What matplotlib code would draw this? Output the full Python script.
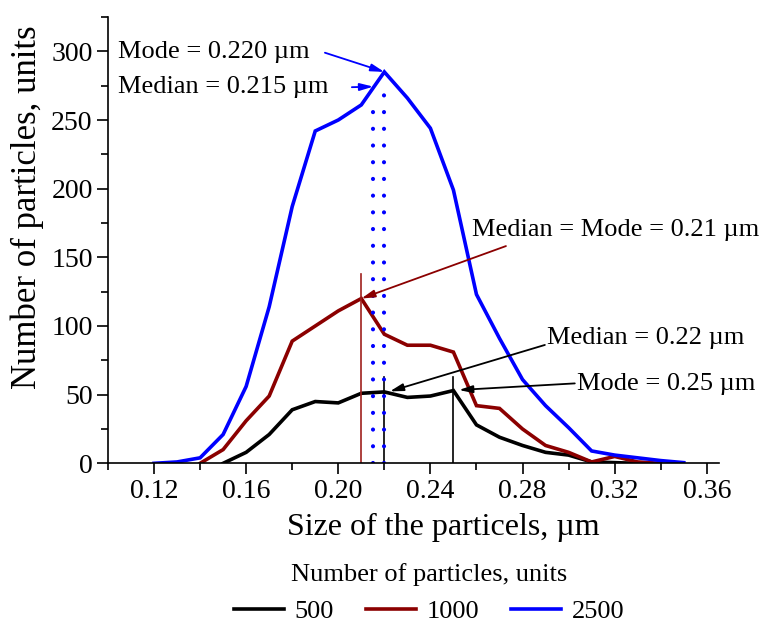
import numpy as np
import matplotlib
matplotlib.use('Agg')
import matplotlib.pyplot as plt
from matplotlib.ticker import MultipleLocator, FixedLocator

plt.rcParams['font.family'] = ['Liberation Serif', 'DejaVu Serif']

# Particle sizes, um
sizes = [0.12, 0.13, 0.14, 0.15, 0.16, 0.17, 0.18, 0.19, 0.20, 0.21, 0.22, 0.23,
         0.24, 0.25, 0.26, 0.27, 0.28, 0.29, 0.30, 0.31, 0.32, 0.33, 0.34, 0.35]

nan = np.nan
# Number of particles for each sample (500, 1000, 2500 units)
n500 = [nan, nan, nan, 0, 8, 21, 39, 45, 44, 51, 52, 48,
        49, 53, 28, 19, 13, 8, 6, 1, 0.5, 0, nan, nan]
n1000 = [nan, nan, 0, 10, 31, 49, 89, 100, 111, 120, 94, 86,
         86, 81, 42, 40, 25, 13, 8, 1, 5, 1, 0, nan]
n2500 = [0, 1, 4, 21, 56, 114, 187, 242, 250, 261, 285, 266,
         244, 199, 123, 91, 61, 42, 26, 9, 6, 4, 2, 0.5]

series_labels = ['500', '1000', '2500']
series_colors = ['black', '#8b0000', 'blue']

fig = plt.figure(figsize=(7.63, 6.23), dpi=100)
ax = fig.add_axes([0.1415, 0.2563, 0.8008, 0.7164])

for vals, lab, col in zip([n500, n1000, n2500], series_labels, series_colors):
    ax.plot(sizes, vals, color=col, lw=2.6, label=lab, solid_joinstyle='miter')

# Median / mode markers
ax.plot([0.21, 0.21], [0, 138], color='#a0201c', lw=1.2)
ax.plot([0.22, 0.22], [0, 63], color='black', lw=1.2)
ax.plot([0.25, 0.25], [0, 63], color='black', lw=1.2)
ax.plot([0.215, 0.215], [0, 262], color='blue', lw=3, linestyle=(0, (0.01, 4.0)),
        dash_capstyle='round')
ax.plot([0.22, 0.22], [0, 272], color='blue', lw=3, linestyle=(0, (0.01, 4.0)),
        dash_capstyle='round')

fs_ann = 19
ax.text(0.1042, 299.8, 'Mode = 0.220 µm', fontsize=fs_ann, va='center', ha='left')
ax.text(0.1042, 274.3, 'Median = 0.215 µm', fontsize=fs_ann, va='center', ha='left')
ax.text(0.2580, 170, 'Median = Mode = 0.21 µm', fontsize=fs_ann, va='center', ha='left')
ax.text(0.2905, 90.9, 'Median = 0.22 µm', fontsize=fs_ann, va='center', ha='left')
ax.text(0.3035, 57.8, 'Mode = 0.25 µm', fontsize=fs_ann, va='center', ha='left')

arrows = [
    ((0.1942, 299), (0.2200, 285), 'blue'),
    ((0.2059, 273.9), (0.2152, 274.3), 'blue'),
    ((0.2728, 158.2), (0.2100, 120), '#8b0000'),
    ((0.2897, 86.2), (0.2224, 52.4), 'black'),
    ((0.3027, 58.2), (0.2524, 53.4), 'black'),
]
for start, end, col in arrows:
    ax.annotate('', xy=end, xytext=start,
                arrowprops=dict(arrowstyle='-|>,head_length=0.8,head_width=0.22',
                                color=col, lw=1.3, shrinkA=0, shrinkB=0))

# Axes formatting
ax.set_xlim(0.10, 0.3653)
ax.set_ylim(0, 325)
ax.spines['top'].set_visible(False)
ax.spines['right'].set_visible(False)
ax.spines['left'].set_linewidth(1.2)
ax.spines['bottom'].set_linewidth(1.2)

ax.xaxis.set_major_locator(FixedLocator([0.12, 0.16, 0.20, 0.24, 0.28, 0.32, 0.36]))
ax.xaxis.set_minor_locator(FixedLocator([0.10, 0.14, 0.18, 0.22, 0.26, 0.30, 0.34]))
ax.set_xticklabels(['0.12', '0.16', '0.20', '0.24', '0.28', '0.32', '0.36'])
ax.yaxis.set_major_locator(MultipleLocator(50))
ax.yaxis.set_minor_locator(MultipleLocator(25))
ax.tick_params(which='major', direction='out', length=8, width=1.2, labelsize=20, pad=3)
ax.tick_params(which='minor', direction='out', length=5, width=1.2)

fig.text(0.036, 1 - 207 / 623, 'Number of particles, units', rotation=90,
         fontsize=25, ha='center', va='center')
fig.text(443 / 763, 1 - 527 / 623, 'Size of the particels, µm', fontsize=23,
         ha='center', va='center')

handles, labels = ax.get_legend_handles_labels()
leg = fig.legend(handles, labels, loc='center', bbox_to_anchor=(429 / 763, 1 - 593 / 623),
                 ncol=3, frameon=False, fontsize=19, title='Number of particles, units',
                 title_fontsize=19, handlelength=1.9, columnspacing=1.2, handletextpad=0.4,
                 borderaxespad=0, borderpad=0)

fig.savefig('out.png', dpi=100)
